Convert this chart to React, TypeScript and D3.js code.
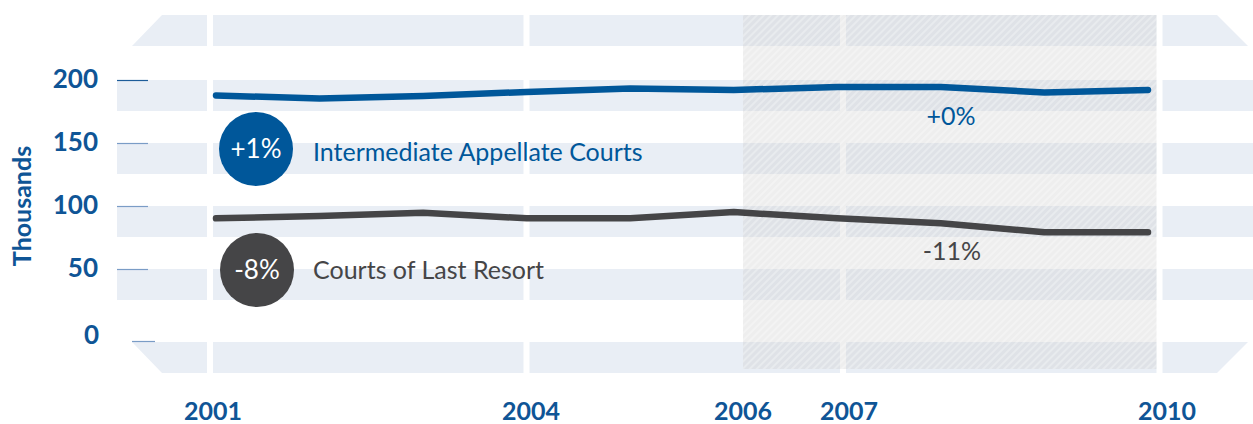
import React from "react";
import * as d3 from "d3";

// caseload in thousands
const years = [2001, 2002, 2003, 2004, 2005, 2006, 2007, 2008, 2009, 2010];
const intermediate = [187.7, 185.3, 187.3, 190.5, 193.3, 192.1, 194.4, 194.4, 190.1, 192.1];
const lastResort = [90.2, 92.1, 94.7, 90.2, 90.2, 95.2, 90.2, 86.3, 79.1, 79.1];
const yTicks = [200, 150, 100, 50];
const xLabels = [2001, 2004, 2006, 2007, 2010];
const gapYears = [2001, 2004, 2007, 2010];

const BLUE = "#00579a";
const GRAY = "#454547";
const BAND = "#e9eef5";
const FONT = "Lato, 'Open Sans', sans-serif";

const W = 1253, H = 424;

export default function App() {
  const y = d3.scaleLinear().domain([0, 200]).range([332, 80]);
  const xLine = d3.scaleLinear().domain([2001, 2010]).range([216, 1148]);
  const xGap = d3.scaleLinear().domain([2001, 2010]).range([210, 1159.5]);
  const xLab = d3.scaleLinear().domain([2001, 2010]).range([213, 1167]);

  const line = d3.line<number>()
    .x((d, i) => xLine(years[i]))
    .y(d => y(d));

  // frame top / bottom (angled ends)
  const topY = 15, botY = 373, bandH = 31;
  const topBand = `M162,${topY}H1217L1248,${topY + bandH}H132Z`;
  const botBand = `M132,${botY - bandH}H1248L1217,${botY}H162Z`;
  const hatchX0 = xLab(2006), hatchX1 = xGap(2010) - 3;

  return (
    <svg width={W} height={H} style={{ position: "absolute", left: 0, top: 0 }}>
      <defs>
        <pattern id="hatch" width="5" height="5" patternUnits="userSpaceOnUse" patternTransform="rotate(45)">
          <rect width="5" height="5" fill="#c8c8c8" fillOpacity="0.3" />
          <rect width="2" height="5" fill="#ffffff" fillOpacity="0.3" />
        </pattern>
      </defs>

      {/* bands */}
      <path d={topBand} fill={BAND} />
      <path d={botBand} fill={BAND} />
      {yTicks.map(t => (
        <rect key={t} x={117} y={y(t)} width={W - 117} height={bandH} fill={BAND} />
      ))}

      {/* white year gaps */}
      {gapYears.map(g => (
        <rect key={g} x={xGap(g) - 3} y={topY} width={6} height={botY - topY} fill="#fff" />
      ))}

      {/* hatched period */}
      <rect x={hatchX0} y={topY} width={hatchX1 - hatchX0} height={369 - topY} fill="url(#hatch)" />

      {/* y axis */}
      {yTicks.map((t, i) => (
        <g key={t}>
          <line x1={117} x2={148} y1={y(t) + 0.5} y2={y(t) + 0.5}
            stroke={i === 0 ? "#1d5c99" : "#7a9cc6"} strokeWidth={1.2} />
          <text x={98} y={y(t) + 8} textAnchor="end" fontFamily={FONT} fontWeight={700}
            fontSize={26} fill="#0f5596">{t}</text>
        </g>
      ))}
      <line x1={132} x2={155} y1={botY - bandH - 0.5} y2={botY - bandH - 0.5} stroke="#7a9cc6" strokeWidth={1.2} />
      <text x={99} y={y(0) + 12} textAnchor="end" fontFamily={FONT} fontWeight={700}
        fontSize={26} fill="#0f5596">0</text>
      <text transform="translate(31,206) rotate(-90)" textAnchor="middle" fontFamily={FONT}
        fontWeight={700} fontSize={25} fill="#0f5596">Thousands</text>

      {/* x labels */}
      {xLabels.map(l => (
        <text key={l} x={xLab(l)} y={420} textAnchor="middle" fontFamily={FONT} fontWeight={700}
          fontSize={25} fill="#0f5596">{l}</text>
      ))}

      {/* series */}
      <path d={line(intermediate) || ""} fill="none" stroke={BLUE} strokeWidth={6.5}
        strokeLinecap="round" strokeLinejoin="round" />
      <path d={line(lastResort) || ""} fill="none" stroke={GRAY} strokeWidth={6.5}
        strokeLinecap="round" strokeLinejoin="round" />

      {/* legend badges */}
      <circle cx={256} cy={149} r={37} fill={BLUE} />
      <text x={256} y={158} textAnchor="middle" fontFamily={FONT} fontSize={26} fill="#fff">+1%</text>
      <text x={313} y={161} fontFamily={FONT} fontSize={25} fill={BLUE}>Intermediate Appellate Courts</text>

      <circle cx={257} cy={270} r={37} fill={GRAY} />
      <text x={257} y={279} textAnchor="middle" fontFamily={FONT} fontSize={26} fill="#fff">-8%</text>
      <text x={313} y={279} fontFamily={FONT} fontSize={25} fill={GRAY}>Courts of Last Resort</text>

      <text x={951} y={125} textAnchor="middle" fontFamily={FONT} fontSize={25} fill={BLUE}>+0%</text>
      <text x={952} y={260} textAnchor="middle" fontFamily={FONT} fontSize={25} fill={GRAY}>-11%</text>
    </svg>
  );
}
